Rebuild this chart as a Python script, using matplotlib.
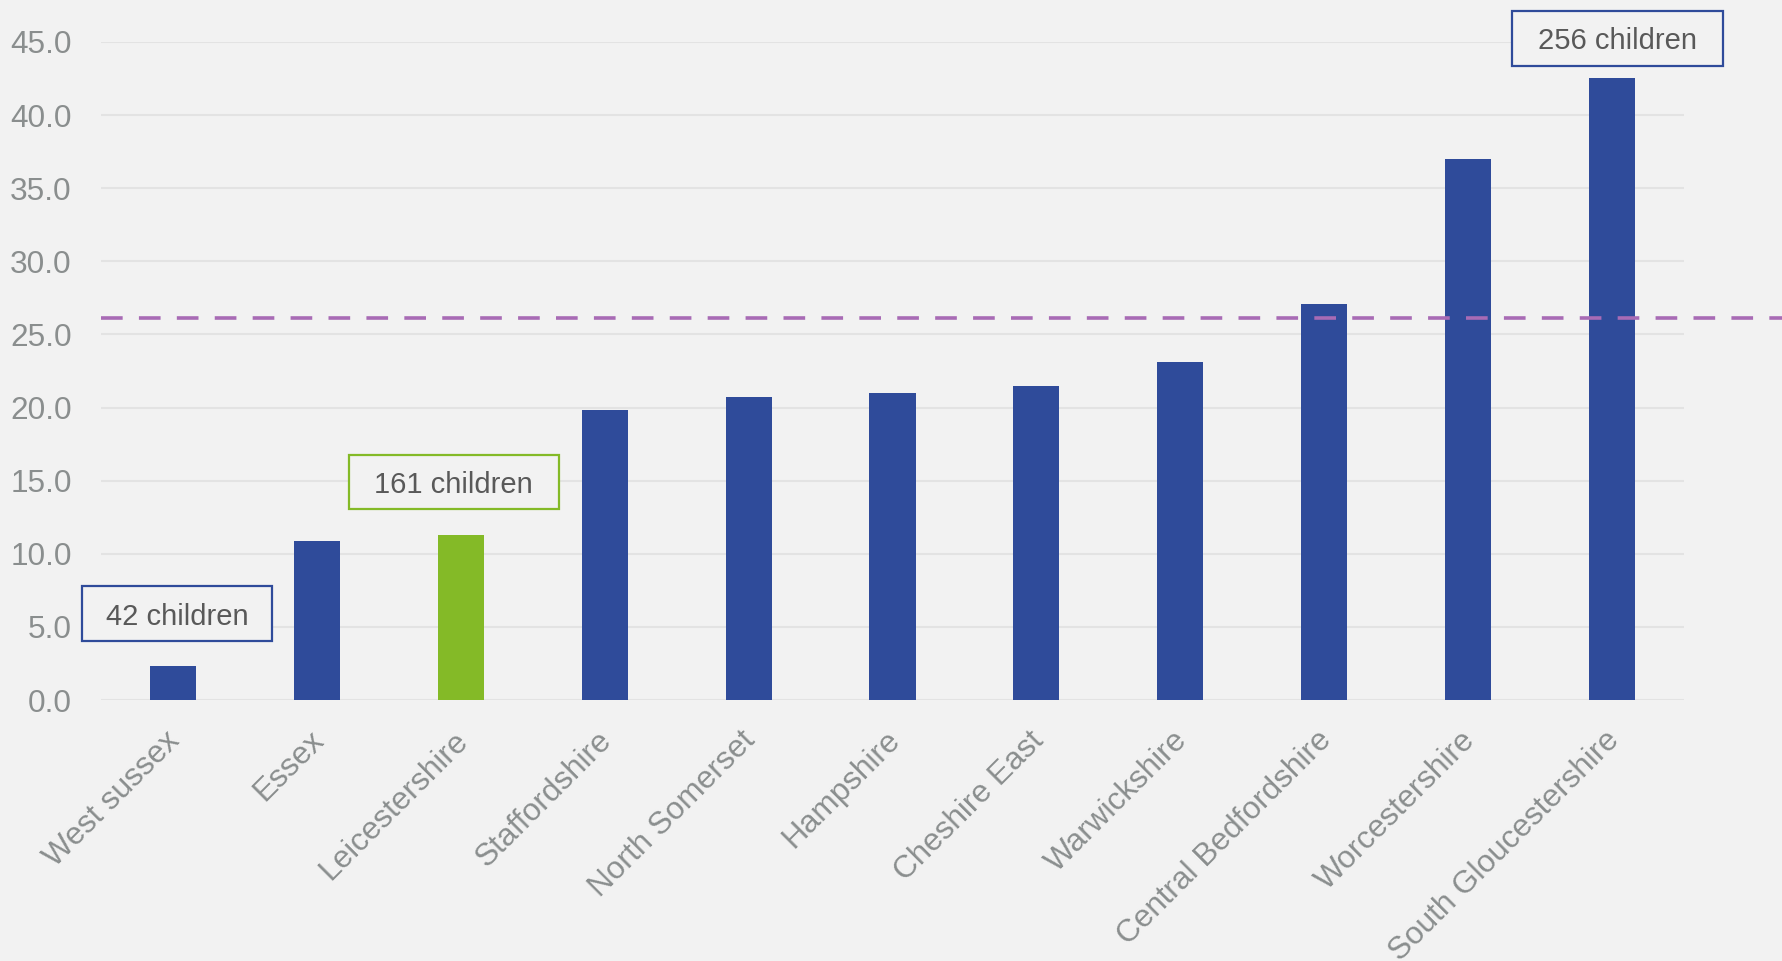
import matplotlib
matplotlib.use("Agg")
import matplotlib.pyplot as plt
from matplotlib.patches import Rectangle
from matplotlib.transforms import ScaledTranslation

categories = ["West sussex", "Essex", "Leicestershire", "Staffordshire", "North Somerset",
              "Hampshire", "Cheshire East", "Warwickshire", "Central Bedfordshire",
              "Worcestershire", "South Gloucestershire"]
values = [2.35, 10.9, 11.3, 19.8, 20.75, 21.0, 21.45, 23.1, 27.1, 37.0, 42.55]
highlight = "Leicestershire"
average = 26.15
yticks = [0, 5, 10, 15, 20, 25, 30, 35, 40, 45]
callouts = [("42 children", 0.03, 5.9, "#2F4B9A"),
            ("161 children", 1.95, 14.9, "#84BA27"),
            ("256 children", 10.04, 45.25, "#2F4B9A")]
# callout box sizes in inches (width, height)
box_sizes = [(1.90, 0.55), (2.10, 0.54), (2.11, 0.55)]

BLUE = "#2F4B9A"
GREEN = "#84BA27"
BG = "#F2F2F2"
GRID = "#E3E3E3"
TICK = "#8A8E8E"
TXT = "#595959"

plt.rcParams['font.family'] = ['Liberation Sans', 'DejaVu Sans']

W, H = 1782, 961
fig = plt.figure(figsize=(W / 100, H / 100), dpi=100, facecolor=BG)
left, right, bottom_px, top_px = 101, 1684, 700, 42
ax = fig.add_axes([left / W, (H - bottom_px) / H, (right - left) / W, (bottom_px - top_px) / H])
ax.set_facecolor(BG)

x = list(range(len(categories)))
colors = [GREEN if c == highlight else BLUE for c in categories]
ax.bar(x, values, width=0.32, color=colors, zorder=3)

ax.set_xlim(-0.5, len(categories) - 0.5)
ax.set_ylim(0, 45)
ax.set_yticks(yticks)
ax.set_yticklabels([f"{v:.1f}" for v in yticks])
ax.yaxis.grid(True, color=GRID, linewidth=1.5, zorder=0)
ax.set_axisbelow(True)
for s in ax.spines.values():
    s.set_visible(False)
ax.tick_params(axis='both', length=0, colors=TICK, labelsize=22.7)
ax.tick_params(axis='y', pad=21)
ax.set_xticks(x)
ax.set_xticklabels(categories, rotation=45, ha='right', va='top', rotation_mode='anchor')
ax.tick_params(axis='x', pad=14)
offset = ScaledTranslation(-8 / 100, -6 / 100, fig.dpi_scale_trans)
for lbl in ax.get_xticklabels():
    lbl.set_color(TICK)
    lbl.set_transform(lbl.get_transform() + offset)
for lbl in ax.get_yticklabels():
    lbl.set_color(TICK)

# average dashed line extending to the figure edge
ax.axhline(average, xmin=0, xmax=(W - left) / (right - left), color="#A86BB5",
           linewidth=2.6, linestyle=(0, (6, 4.5)), clip_on=False, zorder=4)

for (text, cx, cy, ec), (bw, bh) in zip(callouts, box_sizes):
    trans = fig.dpi_scale_trans + ScaledTranslation(cx, cy, ax.transData)
    rect = Rectangle((-bw / 2, -bh / 2), bw, bh, transform=trans, facecolor=BG,
                     edgecolor=ec, linewidth=1.6, zorder=5, clip_on=False)
    ax.add_patch(rect)
    ax.text(cx, cy, text, ha='center', va='center_baseline', fontsize=21, color=TXT, zorder=6,
            clip_on=False)

fig.savefig("out.png", dpi=100, facecolor=BG)
